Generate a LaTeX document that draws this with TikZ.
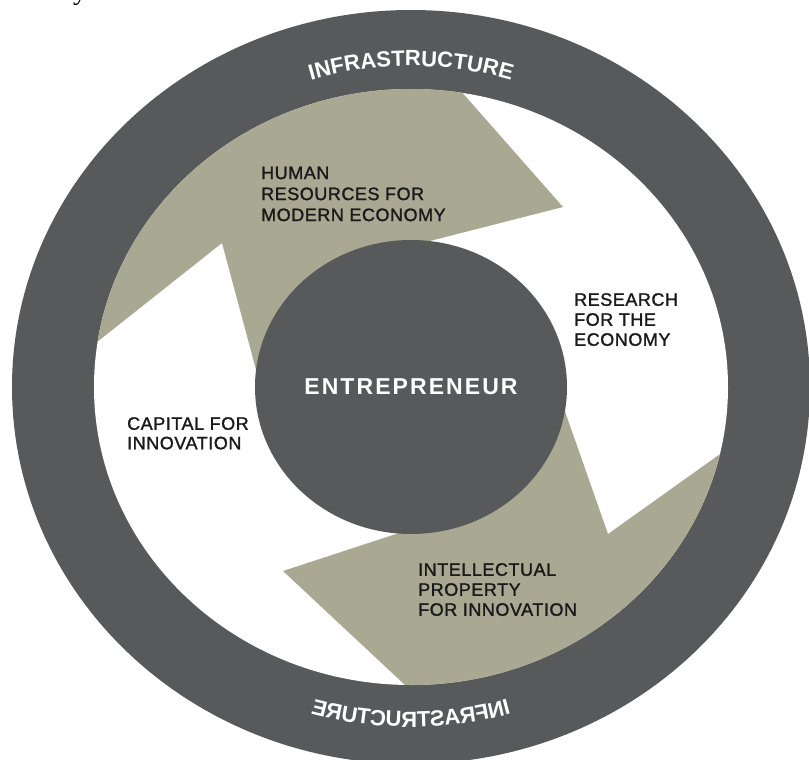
\documentclass[tikz,border=0pt]{standalone}
\usepackage{fontspec}
\setmainfont{Liberation Sans}
\newfontfamily\lblfont{Liberation Sans}[FakeBold=1.4, LetterSpace=3]
\newfontfamily\ringfont{Liberation Sans Bold}[LetterSpace=9]
\newfontfamily\seriffont{Liberation Serif}
\usetikzlibrary{decorations.text,shapes.geometric}
\definecolor{ringgray}{HTML}{58595B}
\definecolor{khaki}{HTML}{A9A892}
\definecolor{ink}{HTML}{1A1A1A}
\begin{document}
\begin{tikzpicture}[x=1pt,y=-1pt,
  lbl/.style={font=\lblfont\fontsize{18}{20.5}\selectfont, text=ink, align=left, anchor=north west, inner sep=0pt},
  arrowfill/.style={fill=khaki},
  ringtext/.style={decorate, decoration={text along path, text align=center, text color=white,
      text={|\ringfont\fontsize{22}{22}\selectfont|INFRASTRUCTURE}}}
]
\useasboundingbox (0,0) rectangle (809,760);
\coordinate (O) at (411,387);
% outer ring
\fill[ringgray] (O) ellipse [x radius=399, y radius=377];
\fill[white] (O) ellipse [x radius=317, y radius=298];
% khaki arrows
\begin{scope}
  \clip (O) ellipse [x radius=317, y radius=298];
  \fill[arrowfill] (222,243) -- (39,388) -- (0,0) -- (401,23) -- (563,207) -- (371,256) -- (273,433) -- cycle;
  \fill[arrowfill] (283,571) -- (466,742) -- (809,760) -- (779,412) -- (608,534) -- (548,363) -- (454,515) -- cycle;
\end{scope}
% centre
\node[ellipse, fill=ringgray, minimum width=312pt, minimum height=294pt, inner sep=0pt,
      text=white, font=\ringfont\fontsize{23}{23}\selectfont] (ent) at (O) {ENTREPRENEUR};
% labels
\node[lbl, font=\lblfont\fontsize{18}{21}\selectfont] (hr) at (261,166.5) {HUMAN\\RESOURCES FOR\\MODERN ECONOMY};
\node[lbl, font=\lblfont\fontsize{18}{20}\selectfont] (re) at (574,293) {RESEARCH\\FOR THE\\ECONOMY};
\node[lbl, font=\lblfont\fontsize{18}{19.5}\selectfont] (cap) at (127,417) {CAPITAL FOR\\INNOVATION};
\node[lbl, font=\lblfont\fontsize{18}{20}\selectfont] (ip) at (418,563) {INTELLECTUAL\\PROPERTY\\FOR INNOVATION};
% ring texts
\path[ringtext] (O) ++(240:340 and 321) arc[start angle=240, end angle=300, x radius=340, y radius=321];
\begin{scope}[transform canvas={xshift=822pt, xscale=-1}]
  \path[ringtext] (O) ++(120:360 and 340) arc[start angle=120, end angle=60, x radius=360, y radius=340];
\end{scope}
% fragment of text above the picture
\node[font=\seriffont\fontsize{28}{28}\selectfont, anchor=base, inner sep=0pt] (frag) at (80,0) {y};
\end{tikzpicture}
\end{document}
